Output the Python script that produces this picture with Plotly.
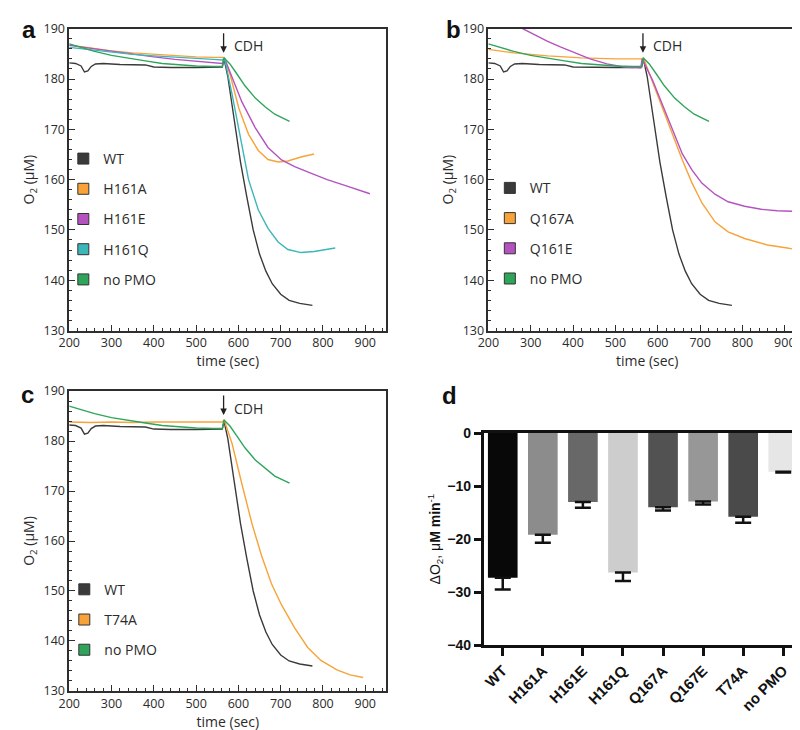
import plotly.graph_objects as go

W, H = 800, 730

# ---------------- data ----------------
wt_t = [200, 215, 228, 236, 244, 252, 262, 280, 320, 380, 400, 440, 500, 540, 562, 566,
        575, 590, 605, 620, 635, 650, 665, 680, 700, 720, 745, 775]
wt_v = [183.2, 183.1, 182.6, 181.4, 181.6, 182.5, 183.0, 183.1, 182.9, 182.8, 182.4, 182.3,
        182.3, 182.3, 182.4, 184.0, 180.5, 172.0, 163.5, 156.5, 150.0, 145.2, 141.8, 139.3,
        137.2, 136.0, 135.4, 135.0]

nopmo_t = [200, 230, 260, 300, 340, 380, 420, 460, 500, 540, 562, 566, 580, 595, 616, 640,
           663, 686, 721]
nopmo_v = [187.0, 186.2, 185.5, 184.7, 184.1, 183.6, 183.1, 182.8, 182.6, 182.5, 182.5, 184.2,
           183.0, 181.2, 178.6, 176.2, 174.5, 173.0, 171.6]

h161a_t = [200, 250, 300, 350, 400, 450, 500, 540, 562, 566, 581, 601, 624, 647, 670, 694,
           717, 748, 779]
h161a_v = [186.8, 186.2, 185.6, 185.2, 184.9, 184.6, 184.4, 184.3, 184.2, 184.3, 180.7, 174.2,
           169.0, 165.8, 164.0, 163.5, 163.7, 164.5, 165.1]

h161e_t = [200, 250, 300, 350, 400, 450, 500, 540, 562, 567, 581, 608, 640, 670, 702, 733,
           771, 810, 857, 911]
h161e_v = [186.7, 186.1, 185.5, 184.9, 184.4, 183.9, 183.5, 183.2, 183.1, 184.2, 181.3, 175.5,
           170.3, 166.4, 163.9, 162.6, 161.3, 160.0, 158.7, 157.2]

h161q_t = [200, 250, 300, 350, 400, 450, 500, 540, 562, 567, 585, 600, 612, 624, 647, 670,
           694, 717, 748, 779, 829]
h161q_v = [186.3, 185.8, 185.3, 184.9, 184.6, 184.3, 184.0, 183.9, 183.8, 184.2, 177.0, 170.5,
           165.0, 160.0, 154.0, 150.3, 147.6, 146.1, 145.5, 145.7, 146.4]

q167a_t = [200, 260, 340, 420, 500, 540, 562, 566, 588, 611, 634, 658, 681, 704, 735, 766,
           805, 859, 906, 952]
q167a_v = [185.9, 185.2, 184.6, 184.2, 184.0, 184.0, 184.0, 184.2, 179.4, 174.2, 169.0, 163.9,
           159.3, 155.4, 151.6, 149.6, 148.3, 147.0, 146.4, 145.7]

q161e_t = [272, 310, 340, 370, 400, 440, 480, 520, 560, 563, 588, 611, 634, 658, 681, 704,
           735, 766, 805, 844, 882, 922]
q161e_v = [190.4, 188.7, 187.5, 186.4, 185.4, 184.0, 183.0, 182.4, 182.2, 184.0, 179.7, 174.9,
           170.0, 165.1, 161.9, 159.3, 157.1, 155.6, 154.7, 154.1, 153.8, 153.7]

t74a_t = [200, 250, 300, 350, 400, 450, 500, 540, 562, 566, 585, 608, 632, 655, 678, 702,
          733, 764, 795, 833, 864, 895]
t74a_v = [183.8, 183.7, 183.8, 183.7, 183.8, 183.8, 183.8, 183.8, 183.8, 184.3, 179.5, 171.5,
          163.5, 157.0, 151.5, 147.2, 142.6, 138.7, 136.1, 134.2, 133.2, 132.7]

bar_labels = ["WT", "H161A", "H161E", "H161Q", "Q167A", "Q167E", "T74A", "no PMO"]
bar_values = [-27.3, -19.2, -13.0, -26.3, -14.0, -12.9, -15.8, -7.3]
bar_errors = [2.2, 1.5, 1.1, 1.6, 0.6, 0.6, 1.1, 0.15]
bar_colors = ["#080808", "#8c8c8c", "#686868", "#cdcdcd", "#525252", "#979797", "#4a4a4a", "#e6e6e6"]

time_ticks = [200, 300, 400, 500, 600, 700, 800, 900]
o2_ticks = [130, 140, 150, 160, 170, 180, 190]
rate_ticks = [0, -10, -20, -30, -40]
cdh_time = 565

# ---------------- styles ----------------
C_WT = "#3a3a3a"
C_OR = "#f7a33a"
C_PU = "#b453c0"
C_CY = "#3bb6b9"
C_GR = "#2ea55a"
FONT = "Open Sans"
TXT = "#2b2b2b"


def px_x(p):
    return p / W


def px_y(p):
    return 1 - p / H


fig = go.Figure()

panels = {
    "a": dict(xa="x", ya="y", leg="legend",
              series=[("WT", wt_t, wt_v, C_WT), ("H161A", h161a_t, h161a_v, C_OR),
                      ("H161E", h161e_t, h161e_v, C_PU), ("H161Q", h161q_t, h161q_v, C_CY),
                      ("no PMO", nopmo_t, nopmo_v, C_GR)]),
    "b": dict(xa="x2", ya="y2", leg="legend2",
              series=[("WT", wt_t, wt_v, C_WT), ("Q167A", q167a_t, q167a_v, C_OR),
                      ("Q161E", q161e_t, q161e_v, C_PU), ("no PMO", nopmo_t, nopmo_v, C_GR)]),
    "c": dict(xa="x3", ya="y3", leg="legend3",
              series=[("WT", wt_t, wt_v, C_WT), ("T74A", t74a_t, t74a_v, C_OR),
                      ("no PMO", nopmo_t, nopmo_v, C_GR)]),
}

for key, p in panels.items():
    order = [s for s in p["series"] if s[0] != "WT"]
    for name, t, v, col in [p["series"][0]] + order:
        fig.add_trace(go.Scatter(x=t, y=v, mode="lines", xaxis=p["xa"], yaxis=p["ya"],
                                 line=dict(color=col, width=1.4), showlegend=False,
                                 hoverinfo="skip"))
    for i, (name, t, v, col) in enumerate(p["series"]):
        fig.add_trace(go.Scatter(x=[None], y=[None], mode="markers", name=name,
                                 xaxis=p["xa"], yaxis=p["ya"], legend=p["leg"],
                                 legendgroup=key + name,
                                 marker=dict(symbol="square", size=11, color=col,
                                             line=dict(color="#333333", width=1))))

# bar panel
fig.add_trace(go.Bar(x=bar_labels, y=bar_values, xaxis="x4", yaxis="y4", width=0.74,
                     marker=dict(color=bar_colors, line=dict(width=0)), showlegend=False,
                     error_y=dict(type="data", symmetric=False, array=[0] * len(bar_errors),
                                  arrayminus=bar_errors, color="#111111", thickness=2.5,
                                  width=8)))

line_ax = dict(showline=True, linecolor="#2e2e2e", linewidth=1.5, mirror=True,
               showgrid=False, zeroline=False, ticks="inside", tickcolor="#2e2e2e",
               tickfont=dict(family=FONT, size=12.5, color=TXT))

dom_x_left = [px_x(51), px_x(373)]
dom_x_right = [px_x(476.5), px_x(799)]
dom_y_top = [px_y(321), px_y(12)]
dom_y_bot = [px_y(690), px_y(383)]

xa = dict(line_ax, range=[200, 950], tickvals=time_ticks, ticklen=6, tickwidth=1.3,
          minor=dict(dtick=20, tick0=200, ticks="inside", ticklen=3, tickcolor="#2e2e2e",
                     tickwidth=1),
          title=dict(text="time (sec)", font=dict(family=FONT, size=14, color=TXT), standoff=0))
ya = dict(line_ax, range=[130, 190], tickvals=o2_ticks, ticklen=6, tickwidth=1.3,
          minor=dict(dtick=2, tick0=130, ticks="inside", ticklen=3, tickcolor="#2e2e2e",
                     tickwidth=1),
          title=dict(text="O<sub>2</sub> (μM)", font=dict(family=FONT, size=14, color=TXT),
                     standoff=6))

legend_base = dict(bgcolor="rgba(0,0,0,0)", font=dict(family=FONT, size=14, color=TXT),
                   itemwidth=30, traceorder="grouped", tracegroupgap=9,
                   xanchor="left", yanchor="top", itemclick=False)

fig.update_layout(
    width=W, height=H, margin=dict(l=0, r=0, t=0, b=0),
    plot_bgcolor="white", paper_bgcolor="white",
    xaxis=dict(xa, domain=dom_x_left, anchor="y"),
    yaxis=dict(ya, domain=dom_y_top, anchor="x"),
    xaxis2=dict(xa, domain=dom_x_right, anchor="y2"),
    yaxis2=dict(ya, domain=dom_y_top, anchor="x2"),
    xaxis3=dict(xa, domain=dom_x_left, anchor="y3"),
    yaxis3=dict(ya, domain=dom_y_bot, anchor="x3"),
    xaxis4=dict(domain=[px_x(472), px_x(795)], anchor="y4", range=[-0.47, 7.47],
                showline=True, linecolor="#111111", linewidth=3, mirror=True,
                ticks="outside", ticklen=8, tickwidth=3, tickcolor="#111111",
                tickangle=-45, showgrid=False, zeroline=False,
                tickfont=dict(family="Liberation Sans", size=15, color="#111111", weight="bold")),
    yaxis4=dict(domain=[px_y(643), px_y(426)], anchor="x4", range=[-40, 0],
                tickvals=rate_ticks, showline=True, linecolor="#111111", linewidth=3,
                ticks="outside", ticklen=7, tickwidth=3, tickcolor="#111111",
                showgrid=False, zeroline=False,
                tickfont=dict(family="Liberation Sans", size=14, color="#111111", weight="bold"),
                title=dict(text="ΔO<sub>2</sub>, μ<b>M min</b><sup>-1</sup>",
                           font=dict(family="Liberation Sans", size=14, color="#111111"),
                           standoff=4)),
    legend=dict(legend_base, x=px_x(45), y=px_y(129)),
    legend2=dict(legend_base, x=px_x(478), y=px_y(159)),
    legend3=dict(legend_base, x=px_x(46), y=px_y(570)),
    showlegend=True,
)

# CDH arrows and labels
for xr, yr in [("x", "y"), ("x2", "y2"), ("x3", "y3")]:
    fig.add_annotation(x=cdh_time, y=185.2, xref=xr, yref=yr, text="", showarrow=True,
                       ax=0, ay=-21, arrowhead=2, arrowsize=1, arrowwidth=1.3,
                       arrowcolor="#222222", standoff=0)
    fig.add_annotation(x=cdh_time, y=186.6, xref=xr, yref=yr, text="CDH", showarrow=False,
                       xanchor="left", xshift=8, font=dict(family=FONT, size=14, color=TXT))

# panel letters
for letter, xp, yp in [("a", 10, 13), ("b", 441, 13), ("c", 9, 386), ("d", 437, 388)]:
    fig.add_annotation(x=px_x(xp), y=px_y(yp), xref="paper", yref="paper", text=letter,
                       showarrow=False, xanchor="center", yanchor="middle",
                       font=dict(family="Liberation Sans", size=24, color="#111111",
                                 weight="bold"))

fig.write_html("out.html")
